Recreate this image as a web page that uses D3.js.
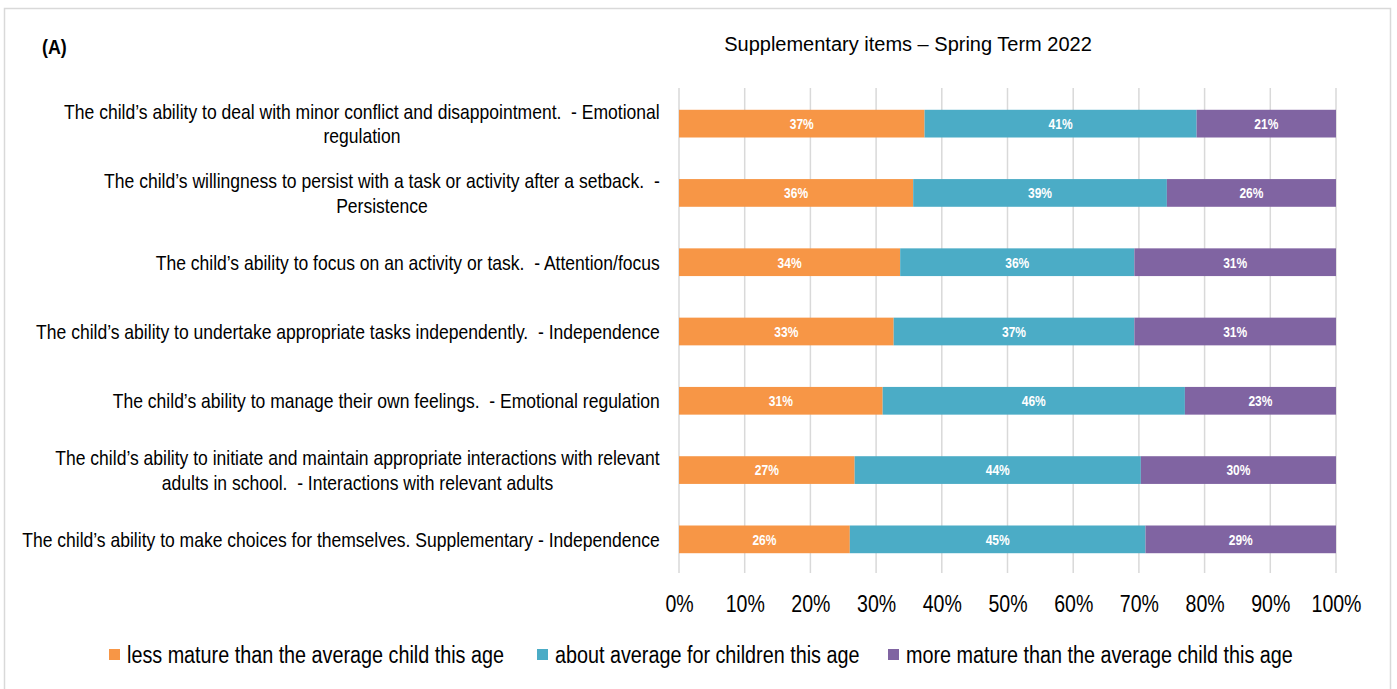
<!DOCTYPE html>
<html>
<head>
<meta charset="utf-8">
<script src="https://cdn.jsdelivr.net/npm/d3@7"></script>
<style>
  html, body { margin: 0; padding: 0; background: #fff; }
  svg { display: block; }
  text { font-family: "Liberation Sans", Arial, sans-serif; white-space: pre; }
</style>
</head>
<body>
<svg id="chart" width="1397" height="689"></svg>
<script>
// Survey items, top to bottom; "\n" marks a line break in the label
const categories = [
  "The child\u2019s ability to deal with minor conflict and disappointment.  - Emotional\nregulation",
  "The child\u2019s willingness to persist with a task or activity after a setback.  -\nPersistence",
  "The child\u2019s ability to focus on an activity or task.  - Attention/focus",
  "The child\u2019s ability to undertake appropriate tasks independently.  - Independence",
  "The child\u2019s ability to manage their own feelings.  - Emotional regulation",
  "The child\u2019s ability to initiate and maintain appropriate interactions with relevant\nadults in school.  - Interactions with relevant adults",
  "The child\u2019s ability to make choices for themselves. Supplementary - Independence"
];
const seriesNames = [
  "less mature than the average child this age",
  "about average for children this age",
  "more mature than the average child this age"
];
const lessMature  = [37, 36, 34, 33, 31, 27, 26];
const aboutAvg    = [41, 39, 36, 37, 46, 44, 45];
const moreMature  = [21, 26, 31, 31, 23, 30, 29];
const xTicks = [0, 0.1, 0.2, 0.3, 0.4, 0.5, 0.6, 0.7, 0.8, 0.9, 1];
const colors = ["#F79646", "#4BACC6", "#8064A2"];
const chartTitle = "Supplementary items \u2013 Spring Term 2022";
const panelLabel = "(A)";

// horizontal squeeze to get a narrow face out of the regular sans
const NARROW = 0.85;
const LABEL_NARROW = 0.835;

const svg = d3.select("#chart");

// outer frame
svg.append("rect")
  .attr("x", 4.5).attr("y", 8.5).attr("width", 1386).attr("height", 700)
  .attr("fill", "#fff").attr("stroke", "#d9d9d9").attr("stroke-width", 1.5);

const plot = { left: 679, right: 1336, top: 88, bottom: 573 };

const x = d3.scaleLinear().domain([0, 1]).range([plot.left, plot.right]);
const y = d3.scaleBand().domain(d3.range(categories.length))
  .range([plot.top, plot.bottom]).paddingInner(0.6).paddingOuter(0.3);

// rows normalised to 100% stacks
const rows = categories.map((c, i) => {
  const vals = [lessMature[i], aboutAvg[i], moreMature[i]];
  const total = d3.sum(vals);
  const r = { idx: i };
  vals.forEach((v, k) => { r["s" + k] = v / total; r["v" + k] = v; });
  return r;
});
const layers = d3.stack().keys(["s0", "s1", "s2"])(rows);

// vertical gridlines
svg.append("g").selectAll("line").data(xTicks).join("line")
  .attr("x1", d => x(d)).attr("x2", d => x(d))
  .attr("y1", plot.top).attr("y2", plot.bottom)
  .attr("stroke", "#d9d9d9").attr("stroke-width", 1.5);

// bars with value labels
const gBars = svg.append("g");
layers.forEach((layer, k) => {
  gBars.append("g").selectAll("rect").data(layer).join("rect")
    .attr("x", d => x(d[0]))
    .attr("width", d => x(d[1]) - x(d[0]))
    .attr("y", d => y(d.data.idx) + 1)
    .attr("height", y.bandwidth())
    .attr("fill", colors[k]);
  gBars.append("g").selectAll("text").data(layer).join("text")
    .attr("transform", d => `translate(${(x(d[0]) + x(d[1])) / 2},${y(d.data.idx) + 1 + y.bandwidth() / 2}) scale(0.8,1)`)
    .attr("dy", "0.36em")
    .attr("text-anchor", "middle")
    .attr("fill", "#fff")
    .attr("font-weight", "bold")
    .attr("font-size", 15)
    .text(d => d.data["v" + k] + "%");
});

// x axis tick labels
const xAxis = d3.axisBottom(x).tickValues(xTicks).tickFormat(d3.format(".0%")).tickSize(0).tickPadding(0);
const gx = svg.append("g").attr("transform", `translate(0,${plot.bottom + 23})`).call(xAxis);
gx.select(".domain").remove();
gx.selectAll("text")
  .attr("font-size", 23).attr("fill", "#000")
  .attr("transform", `scale(${NARROW},1)`)
  .style("font-family", "\"Liberation Sans\", Arial, sans-serif");

// category labels: right-aligned block, lines centred within the block
const gLab = svg.append("g");
const labelRight = 660;
categories.forEach((c, i) => {
  const lines = c.split("\n");
  const cy = y(i) + 1 + y.bandwidth() / 2;
  const g = gLab.append("g");
  const texts = lines.map((ln, j) => g.append("text")
    .attr("y", (j - (lines.length - 1) / 2) * 24.5)
    .attr("dy", "0.36em")
    .attr("text-anchor", "middle")
    .attr("font-size", 21)
    .attr("fill", "#000")
    .text(ln));
  const w = d3.max(texts, t => t.node().getComputedTextLength()) * LABEL_NARROW;
  g.attr("transform", `translate(${labelRight - w / 2},${cy}) scale(${LABEL_NARROW},1)`);
});

// titles
svg.append("text").attr("x", 908).attr("y", 44).attr("dy", "0.36em")
  .attr("text-anchor", "middle").attr("font-size", 20).attr("fill", "#000")
  .text(chartTitle);
svg.append("text")
  .attr("transform", `translate(42,46) scale(${NARROW},1)`)
  .attr("dy", "0.36em")
  .attr("font-size", 21).attr("font-weight", "bold").attr("fill", "#000")
  .text(panelLabel);

// legend
const legendX = [109, 537, 888];
const gLeg = svg.append("g");
seriesNames.forEach((name, k) => {
  gLeg.append("rect").attr("x", legendX[k]).attr("y", 649).attr("width", 11).attr("height", 11)
    .attr("fill", colors[k]);
  gLeg.append("text")
    .attr("transform", `translate(${legendX[k] + 18},655) scale(0.86,1)`)
    .attr("dy", "0.36em")
    .attr("font-size", 23).attr("fill", "#000").text(name);
});
</script>
</body>
</html>
